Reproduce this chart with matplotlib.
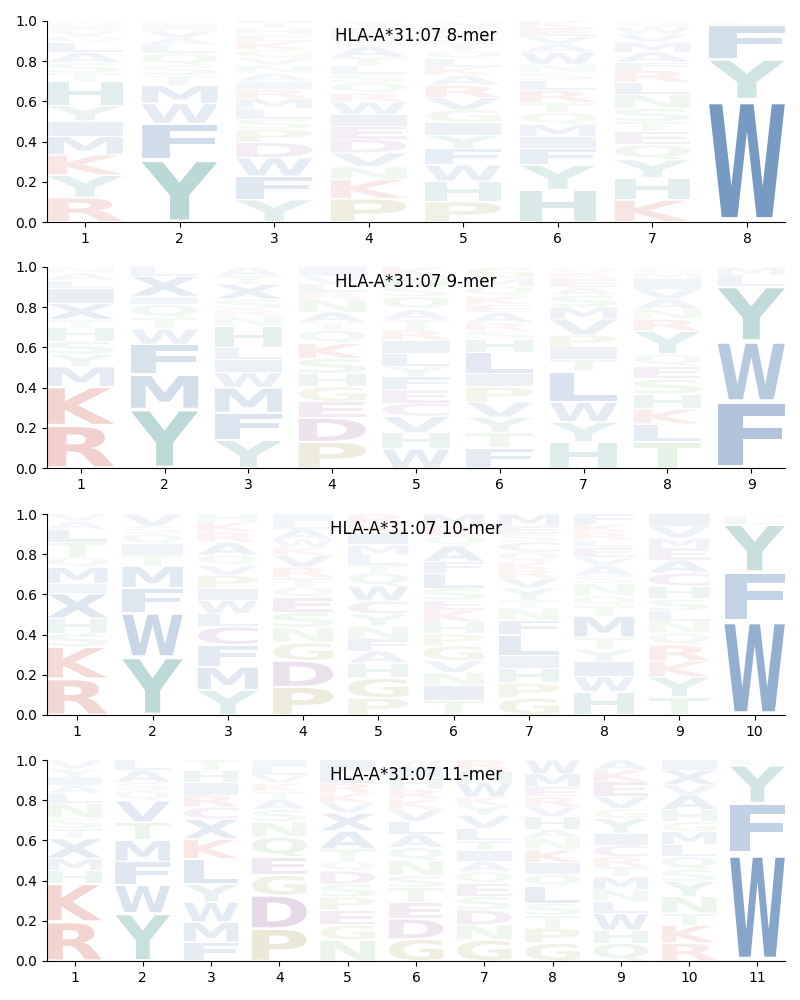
import numpy as np
import matplotlib
matplotlib.use("Agg")
import matplotlib.pyplot as plt
from matplotlib.textpath import TextPath
from matplotlib.patches import PathPatch
from matplotlib.font_manager import FontProperties
from matplotlib.transforms import Affine2D

allele = "HLA-A*31:07"

# letters per position, bottom -> top, with their stacked heights
mer8_letters = [
    "RYKMIYHTSALQVEN",
    "YFWMTSQLAVIE",
    "YFWDPSLMRIANVGKEHT",
    "PKNVDEIWRQSLTAGMFY",
    "PHWFYIGVRAKLQTSEN",
    "HYFIMQTRLSNWAVEK",
    "KHYQETSNLRFAMVWG",
    "WYFL",
]
mer8_heights = [
    [0.12, 0.11, 0.10, 0.09, 0.075, 0.075, 0.12, 0.04, 0.05, 0.05, 0.05, 0.03, 0.03, 0.025, 0.02],
    [0.31, 0.18, 0.10, 0.09, 0.05, 0.05, 0.06, 0.04, 0.035, 0.04, 0.025, 0.02],
    [0.11, 0.115, 0.09, 0.075, 0.065, 0.05, 0.05, 0.05, 0.045, 0.04, 0.04, 0.04, 0.035, 0.04, 0.04, 0.035, 0.03, 0.035],
    [0.11, 0.09, 0.06, 0.065, 0.065, 0.06, 0.055, 0.06, 0.04, 0.05, 0.04, 0.04, 0.04, 0.05, 0.03, 0.03, 0.03, 0.03],
    [0.10, 0.10, 0.08, 0.08, 0.065, 0.065, 0.06, 0.06, 0.06, 0.05, 0.04, 0.04, 0.04, 0.04, 0.04, 0.03, 0.035],
    [0.16, 0.125, 0.08, 0.06, 0.06, 0.06, 0.05, 0.06, 0.05, 0.04, 0.04, 0.06, 0.04, 0.04, 0.04, 0.035],
    [0.11, 0.11, 0.09, 0.075, 0.065, 0.05, 0.065, 0.07, 0.06, 0.06, 0.04, 0.05, 0.05, 0.04, 0.035, 0.03],
    [0.61, 0.20, 0.17, 0.02],
]

mer9_letters = [
    "RKMYSHTXILAN",
    "YMFWTQIXL",
    "YFMWILHNRSXTA",
    "PDEGHSKQTANRLVI",
    "WHVCEFYLIRTAQSNK",
    "FTYVPILHSRAEKQMG",
    "HYWLTIPVMSAERQ",
    "TLKHSEQYRNAVIMG",
    "FWYLM",
]
mer9_heights = [
    [0.21, 0.19, 0.10, 0.06, 0.065, 0.065, 0.04, 0.08, 0.075, 0.04, 0.035, 0.03],
    [0.29, 0.17, 0.15, 0.075, 0.055, 0.065, 0.04, 0.10, 0.045],
    [0.14, 0.135, 0.125, 0.075, 0.065, 0.06, 0.105, 0.05, 0.035, 0.05, 0.075, 0.04, 0.045],
    [0.13, 0.12, 0.08, 0.075, 0.065, 0.075, 0.075, 0.065, 0.04, 0.05, 0.065, 0.035, 0.04, 0.04, 0.045],
    [0.095, 0.08, 0.08, 0.065, 0.065, 0.065, 0.05, 0.065, 0.065, 0.05, 0.05, 0.05, 0.065, 0.05, 0.05, 0.045],
    [0.10, 0.075, 0.075, 0.075, 0.075, 0.065, 0.105, 0.065, 0.04, 0.04, 0.05, 0.04, 0.04, 0.05, 0.04, 0.055],
    [0.13, 0.10, 0.10, 0.15, 0.065, 0.06, 0.06, 0.08, 0.06, 0.06, 0.04, 0.04, 0.03, 0.03],
    [0.13, 0.09, 0.075, 0.075, 0.075, 0.065, 0.06, 0.115, 0.06, 0.05, 0.05, 0.05, 0.05, 0.03, 0.03],
    [0.33, 0.30, 0.275, 0.055, 0.04],
]

mer10_letters = [
    "RKSHXIMQTLAV",
    "YWFMTIQSV",
    "YMFCLWIPVQARKH",
    "PDGNSEQTRVKWALI",
    "PGHAFNYCWQTLMIKR",
    "TINVGPHKESLFAQRM",
    "GPHILFNTYVRKQCSEM",
    "HWIYTMTQNSAVELRKF",
    "TYKRQNLSHCAEMVI",
    "WFYLM",
]
mer10_heights = [
    [0.18, 0.16, 0.065, 0.075, 0.125, 0.05, 0.08, 0.05, 0.075, 0.065, 0.04, 0.035],
    [0.29, 0.22, 0.125, 0.11, 0.06, 0.05, 0.05, 0.04, 0.06],
    [0.125, 0.115, 0.11, 0.09, 0.065, 0.065, 0.06, 0.065, 0.05, 0.05, 0.065, 0.05, 0.05, 0.04],
    [0.14, 0.13, 0.09, 0.075, 0.075, 0.075, 0.05, 0.05, 0.05, 0.06, 0.04, 0.04, 0.05, 0.04, 0.035],
    [0.085, 0.10, 0.075, 0.06, 0.06, 0.065, 0.06, 0.065, 0.075, 0.065, 0.04, 0.05, 0.05, 0.065, 0.04, 0.05],
    [0.075, 0.075, 0.065, 0.06, 0.075, 0.06, 0.06, 0.06, 0.05, 0.06, 0.075, 0.06, 0.08, 0.05, 0.05, 0.06],
    [0.085, 0.075, 0.075, 0.06, 0.105, 0.075, 0.06, 0.04, 0.06, 0.05, 0.04, 0.04, 0.05, 0.05, 0.04, 0.04, 0.06],
    [0.115, 0.075, 0.075, 0.06, 0.06, 0.105, 0.05, 0.05, 0.06, 0.04, 0.05, 0.04, 0.05, 0.035, 0.04, 0.04, 0.05],
    [0.09, 0.10, 0.08, 0.08, 0.06, 0.06, 0.05, 0.06, 0.065, 0.065, 0.065, 0.06, 0.05, 0.06, 0.06],
    [0.47, 0.24, 0.24, 0.035, 0.015],
]

mer11_letters = [
    "RKHMXTSNLAIYV",
    "YWFMTVQSAL",
    "FMWYLKXCRIHT",
    "PDGEQNSATKVLI",
    "NGEPSDQTAXVKRLI",
    "GDETSNQALVKRHIW",
    "GNDSEQAITLVYKWHR",
    "GPTSLQIKNAHVREMW",
    "QHWLNMTRCIYGVEKA",
    "RKTNYSQLMGHAVXI",
    "WFYL",
]
mer11_heights = [
    [0.195, 0.19, 0.065, 0.06, 0.10, 0.05, 0.05, 0.075, 0.05, 0.04, 0.04, 0.04, 0.045],
    [0.235, 0.14, 0.115, 0.105, 0.09, 0.105, 0.05, 0.04, 0.06, 0.05],
    [0.095, 0.10, 0.10, 0.09, 0.125, 0.10, 0.10, 0.06, 0.06, 0.06, 0.065, 0.05],
    [0.16, 0.165, 0.10, 0.09, 0.10, 0.075, 0.06, 0.05, 0.04, 0.04, 0.04, 0.04, 0.035],
    [0.105, 0.075, 0.075, 0.065, 0.065, 0.065, 0.05, 0.06, 0.09, 0.09, 0.05, 0.05, 0.05, 0.06, 0.055],
    [0.11, 0.10, 0.08, 0.075, 0.06, 0.075, 0.065, 0.065, 0.065, 0.06, 0.05, 0.05, 0.06, 0.05, 0.035],
    [0.105, 0.075, 0.075, 0.065, 0.065, 0.06, 0.05, 0.055, 0.05, 0.06, 0.065, 0.05, 0.04, 0.075, 0.06, 0.05],
    [0.09, 0.075, 0.065, 0.06, 0.085, 0.06, 0.06, 0.065, 0.06, 0.04, 0.065, 0.05, 0.05, 0.05, 0.065, 0.07],
    [0.09, 0.065, 0.085, 0.06, 0.06, 0.065, 0.05, 0.05, 0.06, 0.06, 0.075, 0.05, 0.06, 0.075, 0.06, 0.05],
    [0.09, 0.09, 0.06, 0.085, 0.075, 0.06, 0.065, 0.06, 0.065, 0.05, 0.06, 0.075, 0.05, 0.075, 0.05],
    [0.535, 0.25, 0.19, 0.025],
]

panels = [
    ("8-mer", mer8_letters, mer8_heights),
    ("9-mer", mer9_letters, mer9_heights),
    ("10-mer", mer10_letters, mer10_heights),
    ("11-mer", mer11_letters, mer11_heights),
]

# colour groups
blue = (0.21, 0.41, 0.65)
teal = (0.26, 0.58, 0.56)
red = (0.80, 0.30, 0.25)
purple = (0.54, 0.31, 0.57)
olive = (0.61, 0.58, 0.24)
green = (0.40, 0.70, 0.40)
colors = {}
for aa in "AVLIMFWX":
    colors[aa] = blue
for aa in "HY":
    colors[aa] = teal
for aa in "KR":
    colors[aa] = red
for aa in "DEC":
    colors[aa] = purple
for aa in "PG":
    colors[aa] = olive
for aa in "NQST":
    colors[aa] = green

font = FontProperties(family="DejaVu Sans", weight="bold")
glyphs = {}


def draw_letter(ax, letter, x, y, w, h, color, alpha):
    if letter not in glyphs:
        glyphs[letter] = TextPath((0, 0), letter, size=1, prop=font)
    path = glyphs[letter]
    ext = path.get_extents()
    vpad = 0.04 * h
    t = (Affine2D()
         .translate(-ext.x0, -ext.y0)
         .scale(w / ext.width, (h - 2 * vpad) / ext.height)
         .translate(x - w / 2, y + vpad))
    patch = PathPatch(t.transform_path(path), facecolor=color, edgecolor="none",
                      lw=0, alpha=alpha)
    ax.add_patch(patch)


fig = plt.figure(figsize=(8, 10), dpi=100)
bottoms = [0.778, 0.532, 0.285, 0.039]

for (name, letters, heights), b in zip(panels, bottoms):
    ax = fig.add_axes([0.059, b, 0.922, 0.201])
    n = len(letters)
    for i in range(n):
        hs = np.array(heights[i], dtype=float)
        hs = hs / hs.sum()
        y = 0.0
        for aa, h in zip(letters[i], hs):
            # shade by frequency: rare letters stay faint
            a = min(1.0, 1.05 * h ** 0.9)
            draw_letter(ax, aa, i + 1, y, 0.8, h, colors[aa], a)
            y += h
    ax.set_xlim(0.6, n + 0.4)
    ax.set_ylim(0, 1)
    ax.set_xticks(range(1, n + 1))
    ax.set_yticks([0, 0.2, 0.4, 0.6, 0.8, 1.0])
    ax.spines["top"].set_visible(False)
    ax.spines["right"].set_visible(False)
    ax.text(0.5, 0.925, f"{allele} {name}", transform=ax.transAxes,
            ha="center", va="center", fontsize=12)

fig.savefig("out.png", dpi=100)
